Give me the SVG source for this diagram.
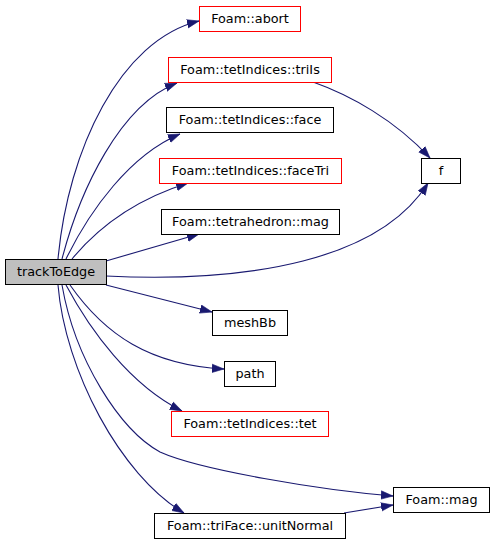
<svg xmlns="http://www.w3.org/2000/svg" width="493" height="544" viewBox="0 0 493 544">
<style>
.n rect{fill:#fff;stroke:#000;stroke-width:1}
.n.r rect{stroke:#ff0000}
.n.cur rect{fill:#bfbfbf}
.n text{font-family:"DejaVu Sans",sans-serif;font-size:12.8px;text-anchor:middle;fill:#000}
.e path{fill:none;stroke:#191970;stroke-width:1.1;marker-end:url(#ah)}
</style>
<defs>
<marker id="ah" markerUnits="userSpaceOnUse" markerWidth="12" markerHeight="10" refX="10" refY="3.5" orient="auto" viewBox="0 0 10 7">
<path d="M0,0 L10,3.5 L0,7 z" fill="#191970" stroke="#191970" stroke-width="0.5"/>
</marker>
</defs>
<rect width="493" height="544" fill="#fff"/>
<g id="edges" class="e">
<path d="M58,259 C68,150 120,40 199,21"/>
<path d="M62,259 C80,190 120,105 177,83"/>
<path d="M66,259 C90,210 130,155 180,134"/>
<path d="M72,259 C100,225 140,198 188,183"/>
<path d="M106,261 L199,234"/>
<path d="M106,276 C250,283 380,260 428,183"/>
<path d="M313,82 C350,95 395,120 430,158"/>
<path d="M106,285 L212,312"/>
<path d="M70,285 C105,335 150,365 224,369"/>
<path d="M66,285 C90,330 130,385 182,411"/>
<path d="M62,285 C75,360 120,430 160,452 C200,470 320,490 393,496"/>
<path d="M58,285 C65,370 120,475 184,513"/>
<path d="M344,513 L393,505"/>
</g>
<g id="trackToEdge" class="n cur"><rect x="5.5" y="259.5" width="101" height="25"/><text x="56" y="276">trackToEdge</text></g>
<g id="abort" class="n r"><rect x="199.5" y="6.5" width="101" height="25"/><text x="250" y="23">Foam::abort</text></g>
<g id="triIs" class="n r"><rect x="168.5" y="57.5" width="163" height="25"/><text x="250" y="74">Foam::tetIndices::triIs</text></g>
<g id="face" class="n"><rect x="166.5" y="107.5" width="167" height="25"/><text x="250" y="124">Foam::tetIndices::face</text></g>
<g id="faceTri" class="n r"><rect x="159.5" y="158.5" width="182" height="25"/><text x="250.5" y="175">Foam::tetIndices::faceTri</text></g>
<g id="f" class="n"><rect x="421.5" y="158.5" width="39" height="25"/><text x="441" y="175">f</text></g>
<g id="tetmag" class="n"><rect x="161.5" y="209.5" width="178" height="25"/><text x="250.5" y="226">Foam::tetrahedron::mag</text></g>
<g id="meshBb" class="n"><rect x="212.5" y="310.5" width="75" height="25"/><text x="250" y="327">meshBb</text></g>
<g id="path" class="n"><rect x="224.5" y="361.5" width="51" height="25"/><text x="250" y="378">path</text></g>
<g id="tet" class="n r"><rect x="171.5" y="411.5" width="157" height="25"/><text x="250" y="428">Foam::tetIndices::tet</text></g>
<g id="mag" class="n"><rect x="393.5" y="487.5" width="96" height="25"/><text x="441.5" y="504">Foam::mag</text></g>
<g id="unitNormal" class="n"><rect x="154.5" y="513.5" width="191" height="25"/><text x="250" y="530">Foam::triFace::unitNormal</text></g>
</svg>
